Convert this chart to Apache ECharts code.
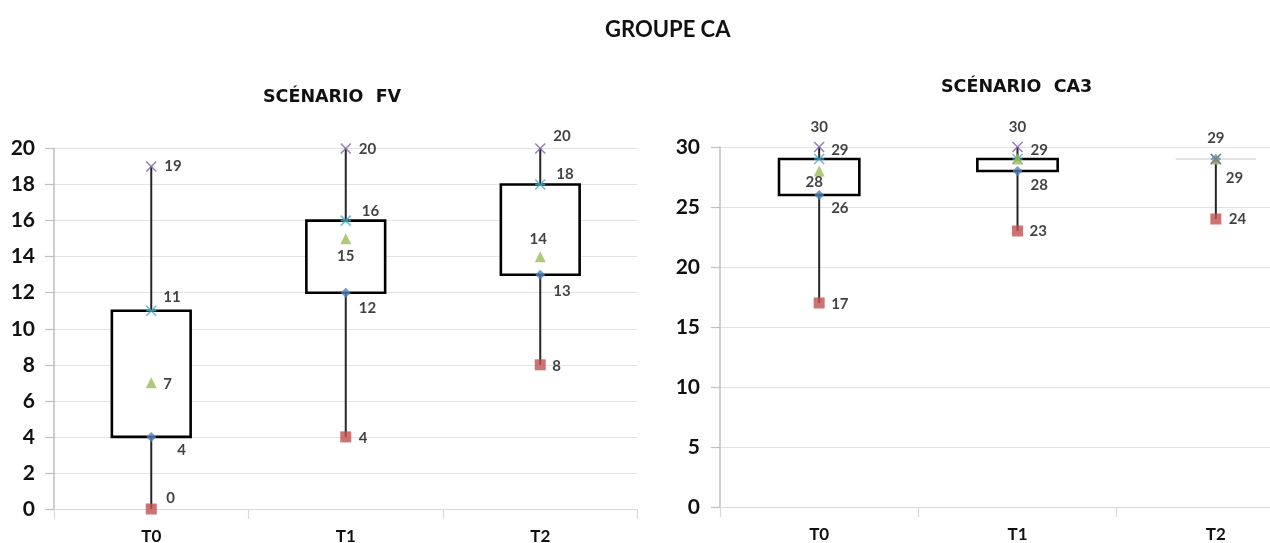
<!DOCTYPE html>
<html>
<head>
<meta charset="utf-8">
<script src="https://cdn.jsdelivr.net/npm/echarts@6/dist/echarts.min.js"></script>
<style>
html,body{margin:0;padding:0;background:#fff;}
#chart{width:1270px;height:543px;}
</style>
</head>
<body>
<div id="chart"></div>
<script>
// ---- data ----
const categories = ['T0', 'T1', 'T2'];
const fvMin = [0, 4, 8];
const fvQ1 = [4, 12, 13];
const fvMed = [7, 15, 14];
const fvQ3 = [11, 16, 18];
const fvMax = [19, 20, 20];

const ca3Min = [17, 23, 24];
const ca3Q1 = [26, 28, 29];
const ca3Med = [28, 29, 29];
const ca3Q3 = [29, 29, 29];
const ca3Max = [30, 30, 29];

const fvTicks = { min: 0, max: 20, interval: 2 };
const ca3Ticks = { min: 0, max: 30, interval: 5 };

// ---- label placement (style only): [dx, dy, align] or null = hidden ----
const fvLabelPos = {
  max: [[13, 0, 'left'], [13, 1, 'left'], [13, -12, 'left']],
  q3:  [[12, -14, 'left'], [16, -9, 'left'], [16, -10, 'left']],
  med: [[12, 1, 'left'], [0, 18, 'center'], [-2, -17, 'center']],
  q1:  [[26, 13, 'left'], [13, 15, 'left'], [13, 16, 'left']],
  min: [[15, -11, 'left'], [13, 1, 'left'], [12, 1, 'left']]
};
const ca3LabelPos = {
  max: [[0, -20, 'center'], [0, -20, 'center'], [0, -21, 'center']],
  q3:  [[12, -9, 'left'], [13, -9, 'left'], null],
  med: [[-5, 11, 'center'], null, null],
  q1:  [[12, 13, 'left'], [13, 14, 'left'], [10, 19, 'left']],
  min: [[12, 1, 'left'], [12, 0, 'left'], [13, 0, 'left']]
};

const FONT = 'Lato, "Open Sans", sans-serif';
const TXT = '#111111';

const markers = {
  min: { symbol: 'rect', size: 11, style: { color: '#c0504d' } },
  q1:  { symbol: 'diamond', size: 10, style: { color: '#4f81bd' } },
  med: { symbol: 'triangle', size: 11, style: { color: '#9bbb59' } },
  q3:  { symbol: 'path://M0,0L10,10M10,0L0,10M0,5L10,5', size: 10,
         style: { color: 'rgba(0,0,0,0)', borderColor: '#4bacc6', borderWidth: 1.6 } },
  max: { symbol: 'path://M0,0L10,10M10,0L0,10', size: 10,
         style: { color: 'rgba(0,0,0,0)', borderColor: '#8064a2', borderWidth: 1.6 } }
};

function boxSeries(idx, mins, q1s, q3s, maxs) {
  return {
    type: 'custom',
    xAxisIndex: idx, yAxisIndex: idx,
    z: 1,
    data: categories.map((c, i) => [i, mins[i], q1s[i], q3s[i], maxs[i]]),
    encode: { x: 0, y: [1, 2, 3, 4] },
    renderItem: function (params, api) {
      const i = api.value(0);
      const pMin = api.coord([i, api.value(1)]);
      const pQ1 = api.coord([i, api.value(2)]);
      const pQ3 = api.coord([i, api.value(3)]);
      const pMax = api.coord([i, api.value(4)]);
      const w = api.size([1, 0])[0] * 0.405;
      const children = [
        { type: 'line', shape: { x1: pMin[0], y1: pMin[1], x2: pQ1[0], y2: pQ1[1] },
          style: { stroke: '#262626', lineWidth: 2 } },
        { type: 'line', shape: { x1: pQ3[0], y1: pQ3[1], x2: pMax[0], y2: pMax[1] },
          style: { stroke: '#262626', lineWidth: 2 } }
      ];
      if (api.value(2) === api.value(3)) {
        children.push({ type: 'line', shape: { x1: pQ1[0] - w / 2, y1: pQ1[1], x2: pQ1[0] + w / 2, y2: pQ1[1] },
          style: { stroke: '#c8c8c8', lineWidth: 1.2 } });
      } else {
        children.push({ type: 'rect', shape: { x: pQ3[0] - w / 2, y: pQ3[1], width: w, height: pQ1[1] - pQ3[1] },
          style: { fill: '#ffffff', stroke: '#000000', lineWidth: 2.6 } });
      }
      return { type: 'group', children: children };
    }
  };
}

function markerSeries(idx, key, values, labelPos) {
  const m = markers[key];
  return {
    type: 'scatter',
    xAxisIndex: idx, yAxisIndex: idx,
    z: 3,
    symbol: m.symbol,
    symbolSize: m.size,
    itemStyle: m.style,
    data: values.map((v, i) => {
      const lp = labelPos[key][i];
      return {
        value: [i, v],
        label: lp ? {
          show: true, position: 'inside', offset: [lp[0], lp[1]], align: lp[2],
          verticalAlign: 'middle', formatter: String(v),
          fontFamily: FONT, fontWeight: 'bold', fontSize: 15, color: TXT
        } : { show: false }
      };
    })
  };
}

function xAxis(idx) {
  return {
    type: 'category', gridIndex: idx, data: categories,
    boundaryGap: true,
    axisLine: { show: true, lineStyle: { color: '#d9d9d9', width: 1.2 } },
    axisTick: { show: true, interval: 0, length: 10, lineStyle: { color: '#d9d9d9', width: 1.2 } },
    axisLabel: { fontFamily: FONT, fontWeight: 'bold', fontSize: 17, color: TXT, margin: 19 },
    splitLine: { show: false }
  };
}

function yAxis(idx, t, margin) {
  return {
    type: 'value', gridIndex: idx, min: t.min, max: t.max, interval: t.interval,
    axisLine: { show: true, lineStyle: { color: '#bfbfbf', width: 1.5 } },
    axisTick: { show: true, length: 9, lineStyle: { color: '#bfbfbf', width: 1.2 } },
    axisLabel: { fontFamily: FONT, fontWeight: 'bold', fontSize: 21, color: TXT, margin: margin },
    splitLine: { show: true, lineStyle: { color: '#e3e3e3', width: 1.2 } }
  };
}

const series = [
  boxSeries(0, fvMin, fvQ1, fvQ3, fvMax),
  markerSeries(0, 'min', fvMin, fvLabelPos),
  markerSeries(0, 'q1', fvQ1, fvLabelPos),
  markerSeries(0, 'q3', fvQ3, fvLabelPos),
  markerSeries(0, 'med', fvMed, fvLabelPos),
  markerSeries(0, 'max', fvMax, fvLabelPos),
  boxSeries(1, ca3Min, ca3Q1, ca3Q3, ca3Max),
  markerSeries(1, 'min', ca3Min, ca3LabelPos),
  markerSeries(1, 'q1', ca3Q1, ca3LabelPos),
  markerSeries(1, 'q3', ca3Q3, ca3LabelPos),
  markerSeries(1, 'med', ca3Med, ca3LabelPos),
  markerSeries(1, 'max', ca3Max, ca3LabelPos)
];

const chart = echarts.init(document.getElementById('chart'), null, { renderer: 'canvas' });
chart.setOption({
  backgroundColor: '#ffffff',
  animation: false,
  title: [
    { text: 'GROUPE CA', left: 600, top: 14,
      textStyle: { fontFamily: FONT, fontWeight: 'bold', fontSize: 22, color: TXT } },
    { text: 'SCÉNARIO  FV', left: 258, top: 83,
      textStyle: { fontFamily: '"DejaVu Sans", sans-serif', fontWeight: 'bold', fontSize: 17.5, color: TXT } },
    { text: 'SCÉNARIO  CA3', left: 936, top: 73,
      textStyle: { fontFamily: '"DejaVu Sans", sans-serif', fontWeight: 'bold', fontSize: 17.5, color: TXT } }
  ],
  grid: [
    { left: 54, top: 148.5, width: 583.5, height: 360.5, outerBoundsMode: 'none', containLabel: false },
    { left: 720, top: 147, width: 595, height: 360, outerBoundsMode: 'none', containLabel: false }
  ],
  xAxis: [xAxis(0), xAxis(1)],
  yAxis: [yAxis(0, fvTicks, 19), yAxis(1, ca3Ticks, 20)],
  series: series
});
</script>
</body>
</html>
